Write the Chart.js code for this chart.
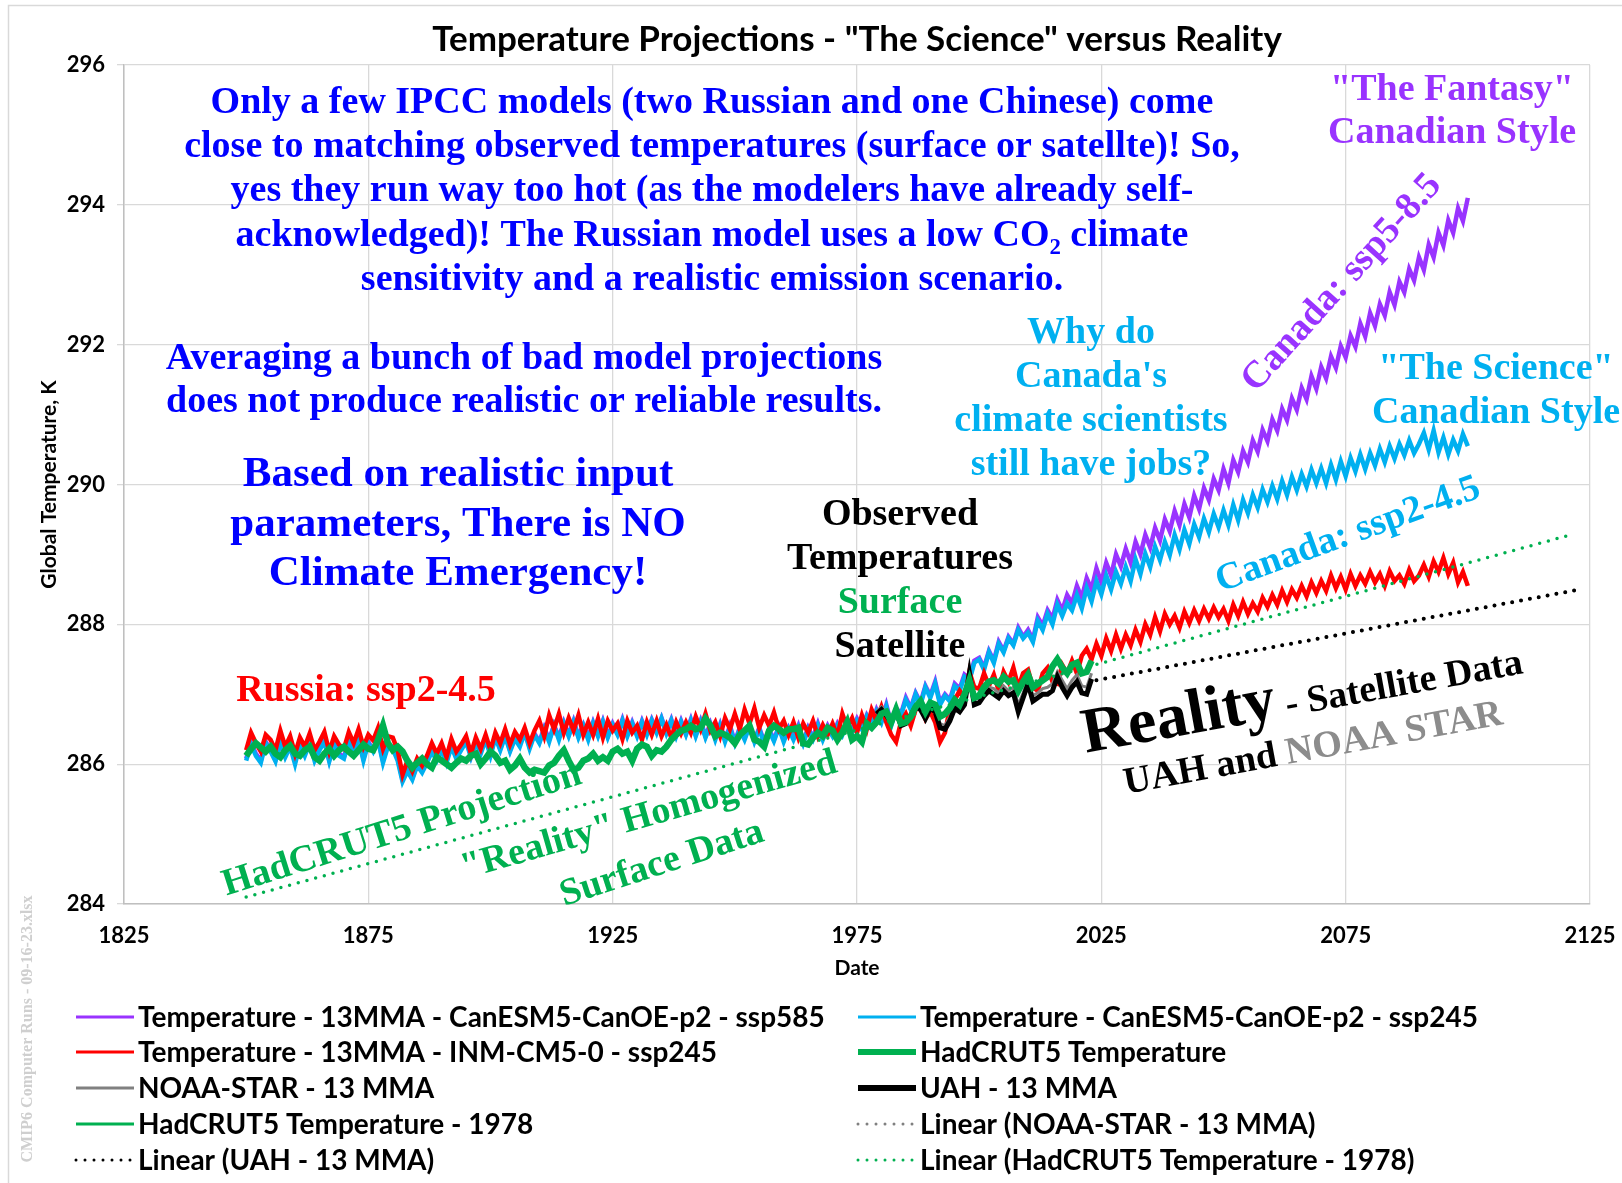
<!DOCTYPE html>
<html>
<head>
<meta charset="utf-8">
<title>Temperature Projections - "The Science" versus Reality</title>
<script src="https://cdn.jsdelivr.net/npm/chart.js@4.4.0/dist/chart.umd.min.js"></script>
<style>
  html, body { margin: 0; padding: 0; background: #fff; overflow: hidden; }
  canvas { display: block; }
</style>
</head>
<body>
<canvas id="myChart" width="1622" height="1183"></canvas>
<script>
// CMIP6 model runs (13 month moving average), yearly from 1850 to 2100
const modelStart = 1850;
const canSsp585 = [
  286.08, 286.3, 286.15, 286.05, 286.32, 286.2, 286.06, 286.3, 286.12, 286.28,
  286.04, 286.3, 286.15, 286.32, 286.08, 286.22, 286.34, 286.06, 286.3, 286.15,
  286.1, 286.33, 286.18, 286.36, 286.08, 286.32, 286.2, 286.35, 286.05, 286.28,
  286.24, 286.08, 285.78, 285.92, 285.8, 286.0, 285.9, 286.05, 286.2, 286.08,
  286.22, 286.05, 286.28, 286.1, 286.22, 286.34, 286.12, 286.32, 286.18, 286.38,
  286.15, 286.4, 286.22, 286.42, 286.2, 286.38, 286.28, 286.46, 286.25, 286.44,
  286.32, 286.52, 286.35, 286.56, 286.38, 286.6, 286.42, 286.62, 286.4, 286.56,
  286.38, 286.6, 286.42, 286.62, 286.4, 286.58, 286.44, 286.64, 286.42, 286.6,
  286.42, 286.62, 286.45, 286.64, 286.48, 286.66, 286.46, 286.64, 286.42, 286.62,
  286.44, 286.64, 286.42, 286.62, 286.4, 286.58, 286.38, 286.57, 286.35, 286.55,
  286.32, 286.52, 286.38, 286.56, 286.34, 286.52, 286.32, 286.5, 286.35, 286.54,
  286.35, 286.52, 286.38, 286.55, 286.32, 286.52, 286.38, 286.58, 286.38, 286.55,
  286.42, 286.58, 286.45, 286.62, 286.48, 286.65, 286.52, 286.7, 286.58, 286.78,
  286.62, 286.85, 286.58, 286.8, 286.72, 286.95, 286.8, 287.02, 286.88, 287.12,
  286.98, 287.18, 286.88, 287.0, 286.92, 287.15, 287.08, 287.28, 287.22, 287.48,
  287.52, 287.38, 287.62, 287.48, 287.75, 287.62, 287.82, 287.72, 287.95, 287.82,
  287.92, 287.78, 288.1, 287.98, 288.2, 288.08, 288.35, 288.2, 288.42, 288.3,
  288.55, 288.38, 288.66, 288.5, 288.8, 288.6, 288.88, 288.7, 289.0, 288.83,
  289.08, 288.88, 289.18, 289.0, 289.28, 289.1, 289.38, 289.2, 289.5, 289.33,
  289.62, 289.42, 289.72, 289.53, 289.84, 289.65, 289.95, 289.78, 290.08, 289.92,
  290.22, 290.02, 290.35, 290.18, 290.48, 290.32, 290.63, 290.47, 290.78, 290.62,
  290.93, 290.77, 291.08, 290.92, 291.23, 291.07, 291.38, 291.22, 291.55, 291.37,
  291.68, 291.52, 291.83, 291.67, 291.98, 291.82, 292.13, 291.97, 292.3, 292.12,
  292.45, 292.27, 292.58, 292.42, 292.75, 292.57, 292.9, 292.75, 293.08, 292.92,
  293.25, 293.07, 293.43, 293.25, 293.6, 293.42, 293.78, 293.6, 293.95, 293.77,
  294.1
];
const canSsp245 = [
  286.05, 286.28, 286.12, 286.02, 286.3, 286.18, 286.04, 286.32, 286.1, 286.25,
  286.0, 286.28, 286.12, 286.3, 286.05, 286.2, 286.32, 286.04, 286.28, 286.12,
  286.08, 286.32, 286.15, 286.35, 286.05, 286.3, 286.18, 286.34, 286.02, 286.25,
  286.22, 286.05, 285.75, 285.9, 285.78, 285.98, 285.88, 286.02, 286.18, 286.05,
  286.2, 286.02, 286.25, 286.08, 286.2, 286.32, 286.1, 286.3, 286.15, 286.35,
  286.12, 286.38, 286.2, 286.4, 286.18, 286.36, 286.25, 286.45, 286.22, 286.42,
  286.3, 286.5, 286.32, 286.55, 286.35, 286.58, 286.4, 286.6, 286.38, 286.55,
  286.35, 286.58, 286.4, 286.6, 286.38, 286.56, 286.42, 286.62, 286.4, 286.58,
  286.4, 286.6, 286.42, 286.62, 286.45, 286.65, 286.44, 286.62, 286.4, 286.6,
  286.42, 286.62, 286.4, 286.6, 286.38, 286.56, 286.35, 286.55, 286.32, 286.52,
  286.3, 286.5, 286.35, 286.54, 286.32, 286.5, 286.3, 286.48, 286.33, 286.52,
  286.32, 286.5, 286.35, 286.52, 286.3, 286.5, 286.36, 286.55, 286.35, 286.52,
  286.4, 286.55, 286.42, 286.6, 286.45, 286.62, 286.5, 286.68, 286.55, 286.75,
  286.6, 286.82, 286.55, 286.78, 286.7, 286.92, 286.78, 287.0, 286.85, 287.1,
  286.95, 287.15, 286.85, 286.98, 286.9, 287.12, 287.05, 287.25, 287.2, 287.45,
  287.5, 287.35, 287.6, 287.45, 287.72, 287.6, 287.8, 287.7, 287.92, 287.8,
  287.88, 287.75, 288.05, 287.92, 288.15, 288.0, 288.28, 288.12, 288.3, 288.2,
  288.42, 288.23, 288.52, 288.33, 288.62, 288.43, 288.7, 288.5, 288.75, 288.58,
  288.82, 288.62, 288.93, 288.72, 289.01, 288.82, 289.11, 288.92, 289.18, 288.99,
  289.28, 289.07, 289.35, 289.15, 289.43, 289.25, 289.51, 289.32, 289.58, 289.39,
  289.63, 289.42, 289.71, 289.49, 289.78, 289.59, 289.85, 289.67, 289.93, 289.75,
  289.98, 289.79, 290.05, 289.85, 290.11, 289.92, 290.15, 289.97, 290.21, 290.02,
  290.23, 290.02, 290.28, 290.07, 290.33, 290.12, 290.38, 290.19, 290.43, 290.22,
  290.45, 290.27, 290.51, 290.32, 290.55, 290.37, 290.58, 290.42, 290.63, 290.45,
  290.58, 290.74, 290.5, 290.77, 290.46, 290.67, 290.43, 290.64, 290.48, 290.72,
  290.55
];
const inmSsp245 = [
  286.2, 286.45, 286.3, 286.18, 286.42, 286.35, 286.2, 286.48, 286.25, 286.4,
  286.15, 286.38, 286.25, 286.44, 286.2, 286.32, 286.46, 286.18, 286.4, 286.28,
  286.22, 286.46, 286.3, 286.5, 286.25, 286.42, 286.34, 286.52, 286.22, 286.4,
  286.38, 286.2, 285.85, 286.05, 285.9, 286.08, 285.98, 286.12, 286.3, 286.15,
  286.3, 286.1, 286.36, 286.18, 286.28, 286.4, 286.15, 286.38, 286.22, 286.42,
  286.2, 286.45, 286.3, 286.5, 286.28, 286.46, 286.35, 286.52, 286.3, 286.48,
  286.62, 286.4, 286.7, 286.5, 286.72, 286.45, 286.66, 286.48, 286.7, 286.42,
  286.6, 286.42, 286.65, 286.38, 286.62, 286.48, 286.58, 286.36, 286.62, 286.45,
  286.55, 286.35, 286.6, 286.42, 286.62, 286.4, 286.56, 286.38, 286.6, 286.44,
  286.6, 286.45, 286.68, 286.5, 286.72, 286.48, 286.6, 286.4, 286.66, 286.5,
  286.72, 286.5, 286.78, 286.58, 286.8, 286.52, 286.7, 286.55, 286.74, 286.5,
  286.62, 286.42, 286.6, 286.38, 286.58, 286.45, 286.62, 286.4, 286.56, 286.42,
  286.58, 286.4, 286.72, 286.52, 286.66, 286.45, 286.7, 286.5, 286.78, 286.62,
  286.82, 286.6, 286.42, 286.32, 286.6, 286.72, 286.55, 286.78, 286.86, 286.65,
  286.75, 286.6, 286.32, 286.45, 286.8, 286.92, 287.05, 286.95, 287.32, 287.1,
  287.08, 287.3, 287.12, 287.28, 287.05, 287.32, 287.18, 287.38, 287.1, 287.3,
  287.35, 287.1, 287.05, 287.3, 287.38, 287.18, 287.15, 287.42, 287.3, 287.48,
  287.3, 287.55, 287.65, 287.5, 287.72, 287.55, 287.8, 287.62, 287.85, 287.65,
  287.85, 287.7, 287.92, 287.75, 288.0, 287.85, 288.1, 287.9, 288.15, 288.0,
  288.12, 287.95, 288.18, 288.02, 288.2, 288.05, 288.22, 288.08, 288.24, 288.1,
  288.22, 288.05, 288.28, 288.12, 288.32, 288.15, 288.3, 288.18, 288.38, 288.25,
  288.42, 288.28, 288.48, 288.32, 288.5, 288.38, 288.55, 288.4, 288.6, 288.45,
  288.62, 288.48, 288.7, 288.52, 288.68, 288.5, 288.72, 288.55, 288.7, 288.58,
  288.75, 288.6, 288.72, 288.55, 288.76, 288.62, 288.7, 288.58, 288.78, 288.62,
  288.7, 288.85, 288.68, 288.9, 288.75, 288.95, 288.72, 288.88, 288.6, 288.75,
  288.55
];

// HadCRUT5 surface record, yearly from 1850 to 2023
const hadStart = 1850;
const hadcrut5 = [
  286.12, 286.22, 286.3, 286.24, 286.18, 286.25, 286.15, 286.1, 286.2, 286.26,
  286.15, 286.12, 286.2, 286.25, 286.1, 286.05, 286.15, 286.22, 286.12, 286.2,
  286.25, 286.18, 286.12, 286.2, 286.28, 286.22, 286.2, 286.35, 286.55, 286.3,
  286.2, 286.25, 286.18, 286.05, 285.95, 286.02, 286.08, 286.0, 285.95, 286.1,
  286.05, 286.0, 285.95, 286.02, 286.08, 286.05, 286.12, 286.15, 286.0, 286.08,
  286.18, 286.12, 286.02, 286.05, 285.92, 285.98, 286.08, 285.95, 285.88, 285.92,
  285.9, 285.88, 285.98, 286.02, 286.12, 286.2, 286.05, 285.92, 285.95, 286.05,
  286.08, 286.15, 286.05, 286.1, 286.05, 286.18, 286.22, 286.15, 286.18, 286.05,
  286.22, 286.28, 286.25, 286.12, 286.2, 286.18, 286.25, 286.35, 286.42, 286.48,
  286.5, 286.55, 286.5, 286.52, 286.65, 286.55, 286.4, 286.45, 286.42, 286.38,
  286.3, 286.42, 286.48, 286.55, 286.35, 286.32, 286.25, 286.48, 286.55, 286.5,
  286.45, 286.5, 286.5, 286.52, 286.3, 286.28, 286.38, 286.45, 286.4, 286.52,
  286.48, 286.35, 286.45, 286.6, 286.35, 286.4, 286.32, 286.58, 286.52, 286.6,
  286.72, 286.75, 286.6, 286.78, 286.58, 286.6, 286.68, 286.82, 286.9, 286.75,
  286.88, 286.85, 286.68, 286.72, 286.8, 286.92, 286.85, 287.0, 287.2, 286.95,
  286.98, 287.1, 287.18, 287.2, 287.15, 287.25, 287.18, 287.2, 287.05, 287.18,
  287.28, 287.1, 287.15, 287.2, 287.25, 287.4, 287.5, 287.38, 287.3, 287.42,
  287.45, 287.3, 287.32, 287.48
];
const had1978Start = 1978;
const hadcrut5From1978 = [
  286.52, 286.6,
  286.72, 286.75, 286.6, 286.78, 286.58, 286.6, 286.68, 286.82, 286.9, 286.75,
  286.88, 286.85, 286.68, 286.72, 286.8, 286.92, 286.85, 287.0, 287.2, 286.95,
  286.98, 287.1, 287.18, 287.2, 287.15, 287.25, 287.18, 287.2, 287.05, 287.18,
  287.28, 287.1, 287.15, 287.2, 287.25, 287.4, 287.5, 287.38, 287.3, 287.42,
  287.45, 287.3, 287.32, 287.48
];

// satellite lower troposphere, yearly from 1979
const satStart = 1979;
const uah = [
  286.72, 286.78, 286.7, 286.6, 286.75, 286.55, 286.58, 286.7, 286.82, 286.78,
  286.65, 286.8, 286.75, 286.52, 286.5, 286.62, 286.8, 286.75, 286.85, 287.3,
  286.85, 286.88, 286.98, 287.05, 287.0, 286.95, 287.05, 286.98, 287.02, 286.75,
  286.95, 287.15, 286.9, 286.95, 287.0, 287.0, 287.05, 287.25, 287.1, 286.98,
  287.1, 287.18, 287.02, 287.0, 287.22
];
const noaaStar = [
  286.75, 286.82, 286.75, 286.65, 286.8, 286.6, 286.62, 286.72, 286.85, 286.82,
  286.7, 286.85, 286.8, 286.58, 286.55, 286.68, 286.85, 286.8, 286.9, 287.35,
  286.92, 286.95, 287.05, 287.1, 287.08, 287.02, 287.12, 287.05, 287.1, 286.85,
  287.02, 287.22, 286.98, 287.02, 287.08, 287.1, 287.15, 287.32, 287.2, 287.08,
  287.2, 287.28, 287.12, 287.1, 287.3
];

// linear trend lines (end points)
const trendNoaaYears = [2024, 2123];
const trendNoaa = [287.2, 288.5];
const trendUahYears = [2024, 2123];
const trendUah = [287.2, 288.5];
const trendHadYears = [1850, 2121];
const trendHad = [284.1, 289.28];

const xTickValues = [1825, 1875, 1925, 1975, 2025, 2075, 2125];
const yTickValues = [284, 286, 288, 290, 292, 294, 296];

function series(start, vals) {
  return vals.map((v, i) => ({ x: start + i, y: v }));
}
function pairs(xs, ys) {
  return xs.map((x, i) => ({ x: x, y: ys[i] }));
}

const SERIF = 'Liberation Serif';

// text boxes placed on the chart
const notes = [
  { x: 712, y: 103, lh: 44.3, size: 38, color: '#0000ff', lines: [
    'Only a few IPCC models (two Russian and one Chinese) come',
    'close to matching observed temperatures (surface or satellte)! So,',
    'yes they run way too hot (as the modelers have already self-',
    'acknowledged)! The Russian model uses a low CO\u2082 climate',
    'sensitivity and a realistic emission scenario.'] },
  { x: 524, y: 359, lh: 43.5, size: 38, color: '#0000ff', lines: [
    'Averaging a bunch of bad model projections',
    'does not produce realistic or reliable results.'] },
  { x: 458, y: 475, lh: 49.5, size: 43, color: '#0000ff', lines: [
    'Based on realistic input', 'parameters, There is NO', 'Climate Emergency!'] },
  { x: 1452, y: 90, lh: 43.5, size: 38, color: '#9933ff', lines: ['"The Fantasy"', 'Canadian Style'] },
  { x: 1091, y: 333, lh: 44, size: 38, color: '#00b0f0', lines: ['Why do', "Canada's", 'climate scientists', 'still have jobs?'] },
  { x: 1496, y: 369, lh: 44, size: 38, color: '#00b0f0', lines: ['"The Science"', 'Canadian Style'] },
  { x: 900, y: 515, lh: 44.2, size: 38, color: ['#000', '#000', '#00b050', '#000'],
    lines: ['Observed', 'Temperatures', 'Surface', 'Satellite'] },
  { x: 366, y: 691, size: 38, color: '#ff0000', lines: ['Russia: ssp2-4.5'] },
  { x: 1342, y: 283, size: 38, angle: -48, color: '#9933ff', lines: ['Canada: ssp5-8.5'] },
  { x: 1348, y: 535, size: 38, angle: -20, color: '#00b0f0', lines: ['Canada: ssp2-4.5'] },
  { x: 402, y: 830, size: 38, angle: -17.5, color: '#00b050', lines: ['HadCRUT5 Projection'] },
  { x: 649, y: 816, size: 38, angle: -16, color: '#00b050', lines: ['"Reality" Homogenized'] },
  { x: 662, y: 864, size: 38, angle: -18, color: '#00b050', lines: ['Surface Data'] }
];
const richNotes = [
  { x: 1305, y: 713, angle: -10.3, parts: [
    { t: 'Reality', size: 64, color: '#000' }, { t: ' - Satellite Data', size: 38, color: '#000' }] },
  { x: 1315, y: 759, angle: -10.5, parts: [
    { t: 'UAH and ', size: 38, color: '#000' }, { t: 'NOAA STAR', size: 38, color: '#8c8c8c' }] }
];

const decorPlugin = {
  id: 'decor',
  beforeDraw(chart) {
    const ctx = chart.ctx;
    ctx.save();
    ctx.fillStyle = '#fff';
    ctx.fillRect(0, 0, chart.width, chart.height);
    ctx.strokeStyle = '#d9d9d9';
    ctx.lineWidth = 1.5;
    ctx.strokeRect(8.5, 5.5, 1700, 1300);
    ctx.restore();
  },
  afterDraw(chart) {
    const ctx = chart.ctx;
    ctx.save();
    // title
    ctx.fillStyle = '#000';
    ctx.font = 'bold 35px Lato';
    ctx.textAlign = 'center';
    ctx.textBaseline = 'middle';
    ctx.fillText('Temperature Projections - "The Science" versus Reality', 857, 40);

    // file stamp
    ctx.save();
    ctx.translate(28, 1029);
    ctx.rotate(-Math.PI / 2);
    ctx.font = 'bold 16px ' + SERIF;
    ctx.fillStyle = '#cfcfcf';
    ctx.fillText('CMIP6 Computer Runs - 09-16-23.xlsx', 0, 0);
    ctx.restore();

    // notes
    notes.forEach(n => {
      ctx.save();
      ctx.translate(n.x, n.y);
      if (n.angle) ctx.rotate(n.angle * Math.PI / 180);
      ctx.font = 'bold ' + n.size + 'px ' + SERIF;
      ctx.textAlign = 'center';
      ctx.textBaseline = 'middle';
      n.lines.forEach((line, i) => {
        ctx.fillStyle = Array.isArray(n.color) ? n.color[i] : n.color;
        ctx.fillText(line, 0, i * (n.lh || 0));
      });
      ctx.restore();
    });
    richNotes.forEach(n => {
      ctx.save();
      ctx.translate(n.x, n.y);
      ctx.rotate(n.angle * Math.PI / 180);
      ctx.textAlign = 'left';
      ctx.textBaseline = 'alphabetic';
      let total = 0;
      n.parts.forEach(p => {
        ctx.font = 'bold ' + p.size + 'px ' + SERIF;
        total += ctx.measureText(p.t).width;
      });
      let cx = -total / 2;
      n.parts.forEach(p => {
        ctx.font = 'bold ' + p.size + 'px ' + SERIF;
        ctx.fillStyle = p.color;
        ctx.fillText(p.t, cx, 0);
        cx += ctx.measureText(p.t).width;
      });
      ctx.restore();
    });

    // legend, two columns
    const colX = [74, 856];
    const rowY = [1017, 1052, 1088, 1124, 1160];
    ctx.font = 'bold 28px Lato';
    ctx.textAlign = 'left';
    ctx.textBaseline = 'middle';
    chart.data.datasets.forEach((ds, i) => {
      const x = colX[i % 2];
      const y = rowY[Math.floor(i / 2)];
      ctx.beginPath();
      ctx.strokeStyle = ds.borderColor;
      ctx.lineWidth = ds.legendWidth;
      ctx.setLineDash(ds.borderDash || []);
      ctx.lineCap = ds.borderDash ? 'round' : 'butt';
      ctx.moveTo(x + 2, y);
      ctx.lineTo(x + 60, y);
      ctx.stroke();
      ctx.setLineDash([]);
      ctx.fillStyle = '#000';
      ctx.fillText(ds.label, x + 64, y + 1);
    });
    ctx.restore();
  }
};

const dotted = [0, 9];

const ctx = document.getElementById('myChart').getContext('2d');
const myChart = new Chart(ctx, {
  type: 'line',
  data: {
    datasets: [
      { label: 'Temperature - 13MMA - CanESM5-CanOE-p2 - ssp585', data: series(modelStart, canSsp585),
        borderColor: '#9933ff', borderWidth: 4.5, legendWidth: 3, order: 9 },
      { label: 'Temperature - CanESM5-CanOE-p2 - ssp245', data: series(modelStart, canSsp245),
        borderColor: '#00b0f0', borderWidth: 4.5, legendWidth: 3, order: 8 },
      { label: 'Temperature - 13MMA - INM-CM5-0 - ssp245', data: series(modelStart, inmSsp245),
        borderColor: '#ff0000', borderWidth: 4.5, legendWidth: 3, order: 7 },
      { label: 'HadCRUT5 Temperature', data: series(hadStart, hadcrut5),
        borderColor: '#00b050', borderWidth: 6.5, legendWidth: 6, order: 4 },
      { label: 'NOAA-STAR - 13 MMA', data: series(satStart, noaaStar),
        borderColor: '#808080', borderWidth: 3, legendWidth: 3, order: 6 },
      { label: 'UAH - 13 MMA', data: series(satStart, uah),
        borderColor: '#000000', borderWidth: 5, legendWidth: 6, order: 5 },
      { label: 'HadCRUT5 Temperature - 1978', data: series(had1978Start, hadcrut5From1978),
        borderColor: '#00b050', borderWidth: 2, legendWidth: 3, order: 3 },
      { label: 'Linear (NOAA-STAR - 13 MMA)', data: pairs(trendNoaaYears, trendNoaa),
        borderColor: '#808080', borderWidth: 3.5, legendWidth: 3, borderDash: dotted, borderCapStyle: 'round', order: 2 },
      { label: 'Linear (UAH - 13 MMA)', data: pairs(trendUahYears, trendUah),
        borderColor: '#000000', borderWidth: 4, legendWidth: 3, borderDash: dotted, borderCapStyle: 'round', order: 1 },
      { label: 'Linear (HadCRUT5 Temperature - 1978)', data: pairs(trendHadYears, trendHad),
        borderColor: '#00b050', borderWidth: 3.5, legendWidth: 3, borderDash: dotted, borderCapStyle: 'round', order: 0 }
    ]
  },
  options: {
    responsive: false,
    animation: false,
    events: [],
    devicePixelRatio: 1,
    elements: { point: { radius: 0 }, line: { tension: 0, fill: false } },
    layout: { padding: { left: 33, top: 65, right: 32, bottom: 198 } },
    plugins: { legend: { display: false }, tooltip: { enabled: false }, title: { display: false } },
    scales: {
      x: {
        type: 'linear', min: 1825, max: 2125,
        afterBuildTicks: s => { s.ticks = xTickValues.map(v => ({ value: v })); },
        // fixed axis height; the last label may hang into the right margin
        afterFit: s => { s.height = 81; s.paddingLeft = 0; s.paddingRight = 0; },
        grid: { color: '#d9d9d9', lineWidth: 1.3, drawTicks: false },
        border: { color: '#bfbfbf', width: 1.5 },
        ticks: { padding: 19, color: '#000', autoSkip: false, maxRotation: 0,
          font: { family: 'Lato', size: 22, weight: 'bold' }, callback: v => String(v) },
        title: { display: true, text: 'Date', color: '#000', padding: { top: 4, bottom: 4 },
          font: { family: 'Lato', size: 21, weight: 'bold' } }
      },
      y: {
        type: 'linear', min: 284, max: 296,
        afterBuildTicks: s => { s.ticks = yTickValues.map(v => ({ value: v })); },
        afterFit: s => { s.width = 91; },
        grid: { color: '#d9d9d9', lineWidth: 1.3, tickLength: 7 },
        border: { color: '#bfbfbf', width: 1.5 },
        ticks: { padding: 12, color: '#000', font: { family: 'Lato', size: 22, weight: 'bold' },
          callback: v => String(v) },
        title: { display: true, text: 'Global Temperature, K', color: '#000', padding: { top: 4, bottom: 4 },
          font: { family: 'Lato', size: 21, weight: 'bold' } }
      }
    }
  },
  plugins: [decorPlugin]
});
</script>
</body>
</html>
